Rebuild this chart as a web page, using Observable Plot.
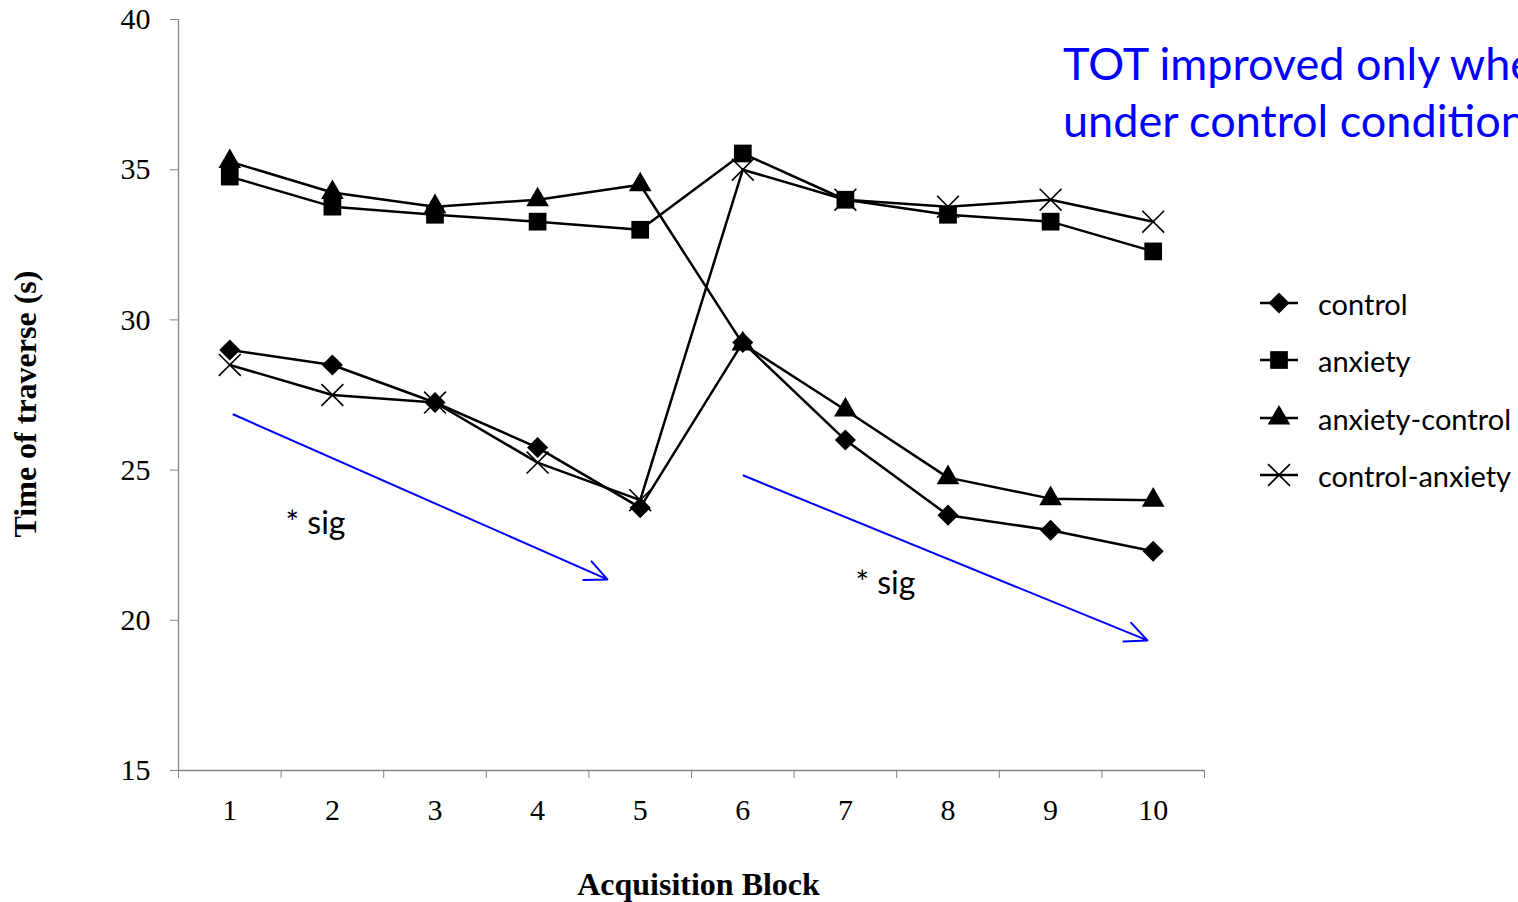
<!DOCTYPE html>
<html><head><meta charset="utf-8">
<script src="https://cdn.jsdelivr.net/npm/d3@7"></script>
<script src="https://cdn.jsdelivr.net/npm/@observablehq/plot@0.6"></script>
<style>
html,body{margin:0;padding:0;background:#fff;overflow:hidden;}
#wrap{position:relative;width:1518px;height:902px;overflow:hidden;background:#fff;}
#title{position:absolute;left:1063px;top:35px;color:#0000ff;font-family:Lato;font-size:45px;line-height:57px;white-space:nowrap;}
.lg{position:absolute;left:1260px;height:40px;display:flex;align-items:center;font-family:Lato;font-size:29px;white-space:nowrap;}
.lg svg{margin-right:20px;}
</style></head><body><div id="wrap"></div>
<script>
const blocks = [1, 2, 3, 4, 5, 6, 7, 8, 9, 10];
const control        = [29.0, 28.5, 27.25, 25.75, 23.75, 29.25, 26.0, 23.5, 23.0, 22.3];
const anxiety        = [34.77, 33.77, 33.5, 33.27, 33.0, 35.54, 34.0, 33.5, 33.27, 32.28];
const anxietyControl = [35.27, 34.24, 33.77, 34.0, 34.5, 29.2, 27.0, 24.75, 24.05, 24.0];
const controlAnxiety = [28.5, 27.5, 27.25, 25.25, 24.0, 35.0, 34.0, 33.77, 34.0, 33.27];
const seriesNames = ["control", "anxiety", "anxiety-control", "control-anxiety"];
const yTicks = [15, 20, 25, 30, 35, 40];
const xTickPos = [0.5, 1.5, 2.5, 3.5, 4.5, 5.5, 6.5, 7.5, 8.5, 9.5, 10.5];
const titleLines = ["TOT improved only when", "under control conditions"];
const arrows = [
  {x1: 1.036, y1: 26.85, x2: 4.68, y2: 21.36},
  {x1: 6.007, y1: 24.82, x2: 9.944, y2: 19.33}
];
const sigNotes = [
  {x: 1.543, y: 23.22, text: "* sig"},
  {x: 7.098, y: 21.22, text: "* sig"}
];
const yLabel = "Time of traverse (s)";
const xLabel = "Acquisition Block";

const seriesValues = [control, anxiety, anxietyControl, controlAnxiety];
const styles = [
  {symbol: "diamond2", r: 9.5, fill: "black", stroke: "none"},
  {symbol: "square", r: 10, fill: "black", stroke: "none"},
  {symbol: "triangle", r: 8.4, fill: "black", stroke: "none"},
  {symbol: "times", r: 10, fill: "none", stroke: "black"}
];
const rows = seriesNames.flatMap((name, si) => blocks.map((b, i) => ({series: name, block: b, value: seriesValues[si][i]})));

const serif = "Liberation Serif";
const sans = "Lato";
const axisGray = "#868686";

const plot = Plot.plot({
  width: 1518, height: 902,
  marginLeft: 178, marginRight: 314, marginTop: 19, marginBottom: 132,
  x: {domain: [0.5, 10.5]},
  y: {domain: [15, 40]},
  style: {background: "white", overflow: "visible"},
  marks: [
    Plot.ruleX([0.5], {stroke: axisGray, strokeWidth: 1.3}),
    Plot.ruleY([15], {stroke: axisGray, strokeWidth: 1.3}),
    Plot.axisY(yTicks, {tickSize: 8, tickPadding: 20, stroke: axisGray, fill: "black", fontSize: 30, fontFamily: serif, label: null}),
    Plot.axisX(xTickPos, {tickSize: 8, tickFormat: () => "", stroke: axisGray, label: null}),
    Plot.axisX(blocks, {tickSize: 0, tickPadding: 28, fill: "black", fontSize: 30, fontFamily: serif, label: null}),
    Plot.line(rows, {x: "block", y: "value", z: "series", stroke: "black", strokeWidth: 2.5}),
    ...seriesNames.map((name, si) => Plot.dot(rows.filter(d => d.series === name), {
      x: "block", y: "value", symbol: () => styles[si].symbol, r: styles[si].r,
      fill: styles[si].fill, stroke: styles[si].stroke, strokeWidth: 1.6
    })),
    Plot.arrow(arrows, {x1: "x1", y1: "y1", x2: "x2", y2: "y2", stroke: "#0000ff", strokeWidth: 2, headLength: 18, headAngle: 50}),
    Plot.text(sigNotes, {x: "x", y: "y", text: "text", textAnchor: "start", fontSize: 32, fontFamily: sans, fill: "black"}),
    Plot.text([yLabel], {text: d => d, frameAnchor: "left", textAnchor: "middle", dx: -153, dy: 9, rotate: -90, fontSize: 32, fontWeight: "bold", fontFamily: serif, fill: "black"}),
    Plot.text([xLabel], {text: d => d, frameAnchor: "bottom", textAnchor: "middle", dx: 7, dy: 124, fontSize: 32, fontWeight: "bold", fontFamily: serif, fill: "black"})
  ]
});
const wrap = document.getElementById("wrap");
wrap.appendChild(plot);

const title = document.createElement("div");
title.id = "title";
title.innerHTML = titleLines.map(t => `<div>${t}</div>`).join("");
wrap.appendChild(title);

const legendCenters = [303, 360, 418, 475];
seriesNames.forEach((name, si) => {
  const row = document.createElement("div");
  row.className = "lg";
  row.style.top = (legendCenters[si] - 20) + "px";
  const svg = d3.create("svg").attr("width", 38).attr("height", 40);
  svg.append("line").attr("x1", 0).attr("x2", 38).attr("y1", 20).attr("y2", 20).attr("stroke", "black").attr("stroke-width", 2.5);
  const symMap = {diamond2: d3.symbolDiamond2, square: d3.symbolSquare, triangle: d3.symbolTriangle, times: d3.symbolTimes};
  const st = styles[si];
  svg.append("path")
    .attr("d", d3.symbol(symMap[st.symbol], Math.PI * st.r * st.r)())
    .attr("transform", "translate(19,20)")
    .attr("fill", st.fill).attr("stroke", st.stroke).attr("stroke-width", 1.6);
  row.appendChild(svg.node());
  const span = document.createElement("span");
  span.textContent = name;
  row.appendChild(span);
  wrap.appendChild(row);
});
</script>
</body></html>
